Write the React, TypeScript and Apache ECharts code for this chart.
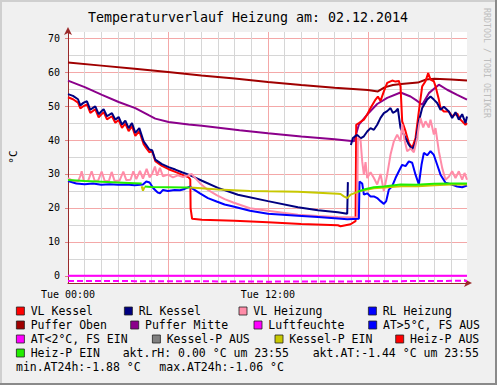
import React, { useEffect, useRef } from 'react';
import * as echarts from 'echarts';

type P = [number, number | null];

const titleText = 'Temperaturverlauf Heizung am: 02.12.2014';
const unitText = '°C';
const watermark = 'RRDTOOL / TOBI OETIKER';

const xLabelHours = [0, 12];
const xLabelTexts = ['Tue 00:00', 'Tue 12:00'];
const xMinorHours = [1, 2, 3, 4, 5, 7, 8, 9, 10, 11, 13, 14, 15, 16, 17, 19, 20, 21, 22, 23];
const xMajorHours = [6, 12, 18];
const yMajor = [0, 10, 20, 30, 40, 50, 60, 70];
const yMinor = [5, 15, 25, 35, 45, 55, 65];

const vlKessel: P[] = [
  [0, 52.6], [0.3, 52.0], [0.6, 51.0], [0.74, 49.3], [0.94, 50.0], [1.14, 50.5], [1.34, 48.0], [1.54, 48.7],
  [1.64, 49.0], [1.84, 46.7], [2.04, 47.7], [2.14, 48.2], [2.34, 46.1], [2.54, 46.7], [2.64, 47.0], [2.84, 45.1],
  [3.04, 45.9], [3.24, 43.6], [3.44, 44.8], [3.64, 42.6], [3.84, 44.1], [4.04, 41.2], [4.28, 42.6], [4.54, 38.8],
  [4.7, 37.6], [4.88, 36.4], [5.05, 36.8], [5.24, 33.8], [5.64, 32.4], [6.04, 31.4], [6.44, 30.6], [6.84, 29.8],
  [7.24, 29.0], [7.34, 28.4], [7.36, 19.9], [7.45, 16.8], [8.04, 16.5], [10, 16.2], [12, 15.8], [14, 15.3],
  [16.2, 14.9], [16.36, 14.6], [16.96, 15.2], [17.26, 16.1], [17.3, 44.5], [17.46, 45.0], [17.76, 46.0],
  [17.96, 47.5], [18.16, 49.4], [18.46, 51.9], [18.6, 52.8], [18.76, 51.5], [18.96, 54.3], [19.16, 56.8],
  [19.46, 57.5], [19.66, 57.2], [19.86, 57.4], [19.96, 55.8], [20.06, 45.5], [20.26, 42.6], [20.46, 39.1],
  [20.66, 37.6], [20.86, 40.6], [21.06, 48.4], [21.26, 55.8], [21.46, 57.3], [21.62, 59.7], [21.76, 57.8],
  [21.96, 57.3], [22.06, 55.8], [22.26, 51.9], [22.36, 49.4], [22.56, 48.4], [22.86, 48.4], [23.06, 47.0],
  [23.36, 47.8], [23.56, 46.0], [23.86, 44.5], [23.95, 45.0],
];

const rlKessel: P[] = [
  [0, 53.5], [0.3, 53.0], [0.6, 52.0], [0.74, 50.2], [0.94, 51.0], [1.14, 51.4], [1.34, 48.9], [1.54, 49.6],
  [1.64, 49.9], [1.84, 47.6], [2.04, 48.6], [2.14, 49.1], [2.34, 47.0], [2.54, 47.6], [2.64, 47.9], [2.84, 46.0],
  [3.04, 46.8], [3.24, 44.5], [3.44, 45.7], [3.64, 43.5], [3.84, 45.0], [4.04, 42.1], [4.28, 43.5], [4.54, 39.6],
  [4.7, 38.5], [4.88, 37.2], [5.05, 37.0], [5.24, 34.2], [5.64, 32.9], [6.04, 32.0], [6.44, 31.3], [6.84, 30.5],
  [7.24, 29.8], [7.64, 28.9], [8.04, 28.0], [9.0, 25.9], [10.2, 23.9], [12, 22.0], [13.8, 20.2], [15, 19.3],
  [16.2, 18.7], [16.76, 18.3], [16.8, 27.6], [16.9, null], [16.98, 38.5], [17.1, 40.6], [17.36, 41.5],
  [17.56, 40.5], [17.76, 41.1], [17.96, 42.5], [18.16, 43.5], [18.36, 43.0], [18.56, 44.5], [18.76, 46.5],
  [18.96, 47.9], [19.16, 48.5], [19.36, 49.4], [19.5, 48.0], [19.66, 48.4], [19.8, 49.2], [19.96, 43.5],
  [20.26, 40.6], [20.46, 38.6], [20.66, 37.2], [20.86, 39.2], [21.06, 45.5], [21.26, 49.4], [21.56, 51.9],
  [21.76, 52.8], [21.96, 51.9], [22.16, 50.9], [22.36, 48.9], [22.56, 49.8], [22.86, 48.4], [23.06, 46.5],
  [23.26, 48.2], [23.46, 46.0], [23.66, 47.6], [23.86, 45.0], [23.95, 46.9],
];

const vlHeizung: P[] = [
  [0, 28.8], [0.3, 28.0], [0.6, 27.8], [0.75, 29.5], [0.82, 30.8], [0.95, 28.0], [1.2, 27.9], [1.42, 30.8],
  [1.6, 28.0], [1.8, 28.0], [2.02, 30.7], [2.2, 28.0], [2.45, 27.9], [2.62, 30.6], [2.8, 27.9], [3.1, 28.1],
  [3.32, 30.7], [3.5, 28.2], [3.75, 28.3], [3.92, 30.8], [4.1, 28.5], [4.32, 30.9], [4.5, 28.6], [4.72, 31.5],
  [4.9, 29.0], [5.05, 30.0], [5.22, 32.2], [5.35, 29.5], [5.52, 31.8], [5.7, 29.3], [6.0, 29.8], [6.3, 29.0],
  [6.6, 29.6], [6.9, 29.1], [7.2, 29.6], [7.42, 30.0], [7.6, 29.0], [7.92, 27.3], [8.4, 25.3], [8.92, 23.8],
  [9.4, 22.6], [9.92, 21.6], [10.92, 19.9], [12, 19.2], [13.8, 18.0], [15, 17.6], [16.2, 17.3], [17.36, 17.2],
  [17.4, 40.6], [17.56, 40.0], [17.66, 33.7], [17.76, 29.8], [17.86, 33.5], [17.96, 28.8], [18.16, 30.5],
  [18.36, 28.8], [18.56, 26.9], [18.76, 30.0], [18.96, 24.9], [19.16, 29.8], [19.36, 35.7], [19.56, 39.6],
  [19.76, 41.6], [19.96, 39.6], [20.06, 44.7], [20.2, 40.0], [20.36, 36.7], [20.56, 37.5], [20.76, 36.4],
  [20.96, 40.6], [21.06, 44.0], [21.16, 46.5], [21.32, 43.7], [21.46, 45.5], [21.66, 43.7], [21.76, 46.0],
  [21.96, 41.6], [22.06, 43.5], [22.26, 36.7], [22.46, 31.8], [22.66, 28.3], [22.86, 29.2], [23.06, 30.8],
  [23.26, 28.8], [23.46, 30.8], [23.66, 28.3], [23.8, 30.3], [23.95, 28.3],
];

const rlHeizung: P[] = [
  [0, 27.9], [0.5, 27.2], [1.0, 27.0], [1.5, 27.2], [2.0, 26.8], [2.5, 27.0], [3.0, 26.8], [3.5, 26.9],
  [4.0, 26.7], [4.5, 26.9], [4.7, 27.8], [4.9, 27.5], [5.12, 25.8], [5.4, 24.5], [5.52, 24.3], [5.7, 25.3],
  [6.0, 25.0], [6.4, 25.3], [6.72, 25.2], [7.0, 25.6], [7.32, 26.3], [7.5, 25.6], [7.92, 24.3], [8.4, 22.9],
  [8.92, 21.9], [9.4, 21.0], [9.92, 20.4], [10.92, 19.2], [12, 18.3], [13.8, 17.7], [15, 17.3], [16.2, 16.9],
  [16.76, 16.7], [17.46, 16.8], [17.5, 27.8], [17.66, 27.2], [17.76, 23.9], [17.96, 24.3], [18.16, 23.4],
  [18.36, 23.4], [18.56, 22.9], [18.76, 22.0], [18.96, 21.2], [19.1, 22.0], [19.26, 25.4], [19.46, 26.4],
  [19.66, 28.8], [19.86, 30.8], [20.06, 32.7], [20.26, 32.3], [20.46, 33.7], [20.66, 33.3], [20.86, 29.8],
  [21.06, 26.9], [21.22, 32.7], [21.36, 36.2], [21.56, 35.5], [21.76, 36.7], [21.96, 35.6], [22.16, 32.7],
  [22.36, 29.8], [22.66, 27.4], [22.96, 27.0], [23.36, 26.3], [23.66, 26.1], [23.95, 26.6],
];

const pufferOben: P[] = [
  [0, 62.8], [2, 61.9], [4, 61.0], [6, 60.0], [8, 59.0], [10, 58.1], [12, 57.1], [14, 56.2], [16, 55.4],
  [18, 54.7], [18.6, 54.3], [19, 55.5], [19.5, 56.2], [20, 56.5], [21, 56.9], [21.5, 57.8], [22, 58.0],
  [23, 57.8], [23.95, 57.5],
];

const pufferMitte: P[] = [
  [0, 57.5], [1.04, 55.5], [2.04, 53.3], [3.04, 51.2], [4.04, 49.4], [4.84, 47.3], [5.24, 46.3], [6.04, 45.3],
  [7.24, 44.6], [8.04, 44.2], [10.3, 42.9], [12, 42.0], [14, 41.0], [16, 40.2], [17.16, 39.6], [17.46, 44.5],
  [17.96, 47.5], [18.56, 50.6], [19.16, 52.4], [19.96, 54.0], [20.56, 52.8], [20.96, 51.5], [21.26, 50.4],
  [21.66, 53.8], [22.26, 56.3], [22.76, 54.8], [23.36, 53.3], [23.95, 51.9],
];

const luftfeuchte: P[] = [[0, 0], [23.95, 0]];

const atUnder2: P[] = [[0, -1.5], [4, -1.55], [8, -1.6], [12, -1.7], [16, -1.65], [20, -1.55], [23.95, -1.44]];

const kesselPEin: P[] = [
  [4.42, 26.4], [4.5, 25.1], [4.6, 26.2], [4.62, null], [7.3, 26.0], [7.8, 25.9], [9.0, 25.4], [10.92, 25.0],
  [12, 24.9], [13.8, 24.8], [15, 24.5], [16.2, 24.2], [16.36, 24.1], [16.56, 23.4], [16.76, 22.9], [16.96, 23.9],
  [17.16, 24.3], [17.46, 24.9], [17.76, 25.2], [18.36, 25.8], [19.0, 26.0], [20, 26.4], [21, 26.4], [22, 26.7],
  [23, 26.9], [23.95, 26.9],
];

const heizPEin: P[] = [
  [0, 28.2], [1.0, 27.9], [2.0, 27.7], [3.0, 27.5], [4.0, 27.3], [4.42, 27.2], [4.44, null], [4.6, 26.3],
  [5.0, 26.2], [6.0, 26.1], [7.0, 26.0], [7.3, 26.0], [7.32, null], [17.4, 24.8], [17.76, 25.4], [18.36, 26.1],
  [18.96, 26.3], [19.96, 26.9], [20.9, 26.8], [21.96, 27.1], [22.9, 27.2], [23.95, 27.2],
];

const emptySeries: P[] = [];

const seriesNames = [
  'VL Kessel', 'RL Kessel', 'VL Heizung', 'RL Heizung', 'Puffer Oben', 'Puffer Mitte', 'Luftfeuchte',
  'AT>5°C, FS AUS', 'AT<2°C, FS EIN', 'Kessel-P AUS', 'Kessel-P EIN', 'Heiz-P AUS', 'Heiz-P EIN',
];
const seriesColors = [
  '#FF0000', '#000080', '#FF8CA8', '#0000FF', '#A00000', '#8B008B', '#FF00FF',
  '#0000FF', '#FF00FF', '#808080', '#C8C800', '#FF0000', '#22EE00',
];
const seriesData = [
  vlKessel, rlKessel, vlHeizung, rlHeizung, pufferOben, pufferMitte, luftfeuchte,
  emptySeries, atUnder2, emptySeries, kesselPEin, emptySeries, heizPEin,
];
const drawOrder = [6, 4, 5, 8, 0, 1, 2, 3, 10, 12, 7, 9, 11];

const legendRows: { y: number; items: { idx: number; x: number }[] }[] = [
  { y: 311, items: [{ idx: 0, x: 30.7 }, { idx: 1, x: 138.7 }, { idx: 2, x: 253.3 }, { idx: 3, x: 382.7 }] },
  { y: 325, items: [{ idx: 4, x: 30.7 }, { idx: 5, x: 145 }, { idx: 6, x: 268.3 }, { idx: 7, x: 383 }] },
  { y: 339, items: [{ idx: 8, x: 30.7 }, { idx: 9, x: 166.7 }, { idx: 10, x: 289.3 }, { idx: 11, x: 410 }] },
  { y: 353, items: [{ idx: 12, x: 30.7 }] },
];
const infoTexts = [
  { text: 'akt.rH: 0.00 °C um 23:55', x: 122.7, y: 353 },
  { text: 'akt.AT:-1.44 °C um 23:55', x: 312.7, y: 353 },
  { text: 'min.AT24h:-1.88 °C', x: 16, y: 367 },
  { text: 'max.AT24h:-1.06 °C', x: 159.3, y: 367 },
];

const MONO = '"DejaVu Sans Mono", monospace';

export default function App() {
  const ref = useRef<HTMLDivElement>(null);
  useEffect(() => {
    if (!ref.current) return;
    const chart = echarts.init(ref.current, null, { renderer: 'svg' });

    const graphics: any[] = [];
    graphics.push({ type: 'line', shape: { x1: 0, y1: 1, x2: 496, y2: 1 }, style: { stroke: '#CFCFCF', lineWidth: 2 }, silent: true });
    graphics.push({ type: 'line', shape: { x1: 1, y1: 0, x2: 1, y2: 384 }, style: { stroke: '#CFCFCF', lineWidth: 2 }, silent: true });
    graphics.push({ type: 'line', shape: { x1: 0, y1: 384, x2: 497, y2: 384 }, style: { stroke: '#8A8A8A', lineWidth: 2 }, silent: true });
    graphics.push({ type: 'line', shape: { x1: 496, y1: 0, x2: 496, y2: 385 }, style: { stroke: '#8A8A8A', lineWidth: 2 }, silent: true });
    graphics.push({
      type: 'text', x: 248, y: 17, silent: true,
      style: { text: titleText, font: `13.3px ${MONO}`, fill: '#000', align: 'center', verticalAlign: 'middle' },
    });
    graphics.push({
      type: 'text', x: 487, y: 8, rotation: -Math.PI / 2, silent: true,
      style: { text: watermark, font: `8.3px ${MONO}`, fill: '#BDBDBD', align: 'left', verticalAlign: 'middle' },
    });
    graphics.push({
      type: 'text', x: 13, y: 157, rotation: Math.PI / 2, silent: true,
      style: { text: unitText, font: `11px ${MONO}`, fill: '#000', align: 'center', verticalAlign: 'middle' },
    });
    legendRows.forEach((row) => {
      row.items.forEach((it) => {
        graphics.push({
          type: 'rect', shape: { x: it.x - 14.3, y: row.y - 4, width: 8, height: 8 }, silent: true,
          style: { fill: seriesColors[it.idx], stroke: '#222', lineWidth: 0.8 },
        });
        graphics.push({
          type: 'text', x: it.x, y: row.y, silent: true,
          style: { text: seriesNames[it.idx], font: `11.5px ${MONO}`, fill: '#000', verticalAlign: 'middle' },
        });
      });
    });
    infoTexts.forEach((t) => {
      graphics.push({
        type: 'text', x: t.x, y: t.y, silent: true,
        style: { text: t.text, font: `11.5px ${MONO}`, fill: '#000', verticalAlign: 'middle' },
      });
    });

    const axisColor = '#9A2A2A';
    const minorColor = '#D6D6D6';
    const majorColor = '#F4A8A8';

    const option: any = {
      animation: false,
      backgroundColor: '#F0F0F0',
      grid: { left: 68, right: 30, top: 32, bottom: 102, show: true, backgroundColor: '#FFFFFF', borderWidth: 0 },
      xAxis: [
        {
          type: 'value', min: 0, max: 23.95, position: 'bottom',
          axisLine: { show: true, onZero: false, lineStyle: { color: axisColor, width: 1 }, symbol: ['none', 'arrow'], symbolSize: [6, 8], symbolOffset: [0, 5] },
          axisTick: { show: false, customValues: xMajorHours },
          axisLabel: {
            customValues: xLabelHours, margin: 6, color: '#000', fontFamily: MONO, fontSize: 10,
            formatter: (v: number) => xLabelTexts[xLabelHours.indexOf(v)] ?? '',
          },
          splitLine: { show: true, lineStyle: { color: majorColor, width: 1 } },
        },
        {
          type: 'value', min: 0, max: 23.95, position: 'top', show: true,
          axisLine: { show: false, onZero: false },
          axisTick: { show: false, customValues: xMinorHours },
          axisLabel: { show: false, customValues: xMinorHours },
          splitLine: { show: true, lineStyle: { color: minorColor, width: 1 } },
        },
      ],
      yAxis: [
        {
          type: 'value', min: -2.1, max: 71.8, position: 'left',
          axisLine: { show: true, onZero: false, lineStyle: { color: axisColor, width: 1 }, symbol: ['none', 'arrow'], symbolSize: [6, 8], symbolOffset: [0, 5] },
          axisTick: { show: true, length: 3, customValues: yMajor, lineStyle: { color: '#E08080' } },
          axisLabel: { customValues: yMajor, margin: 8, color: '#000', fontFamily: MONO, fontSize: 10 },
          splitLine: { show: true, lineStyle: { color: majorColor, width: 1 } },
        },
        {
          type: 'value', min: -2.1, max: 71.8, position: 'right', show: true,
          axisLine: { show: false, onZero: false },
          axisTick: { show: false, customValues: yMinor },
          axisLabel: { show: false, customValues: yMinor },
          splitLine: { show: true, lineStyle: { color: minorColor, width: 1 } },
        },
      ],
      graphic: graphics,
      series: drawOrder.map((i, k) => ({
        type: 'line',
        name: seriesNames[i],
        data: seriesData[i],
        xAxisIndex: 0,
        yAxisIndex: 0,
        showSymbol: false,
        symbol: 'none',
        connectNulls: false,
        z: 3 + k * 0.01,
        lineStyle: { color: seriesColors[i], width: 2, type: i === 8 ? [6, 3] : 'solid' },
        itemStyle: { color: seriesColors[i] },
        silent: true,
      })),
    };
    chart.setOption(option);
    return () => chart.dispose();
  }, []);
  return <div ref={ref} style={{ position: 'absolute', left: 0, top: 0, width: 497, height: 385 }} />;
}
